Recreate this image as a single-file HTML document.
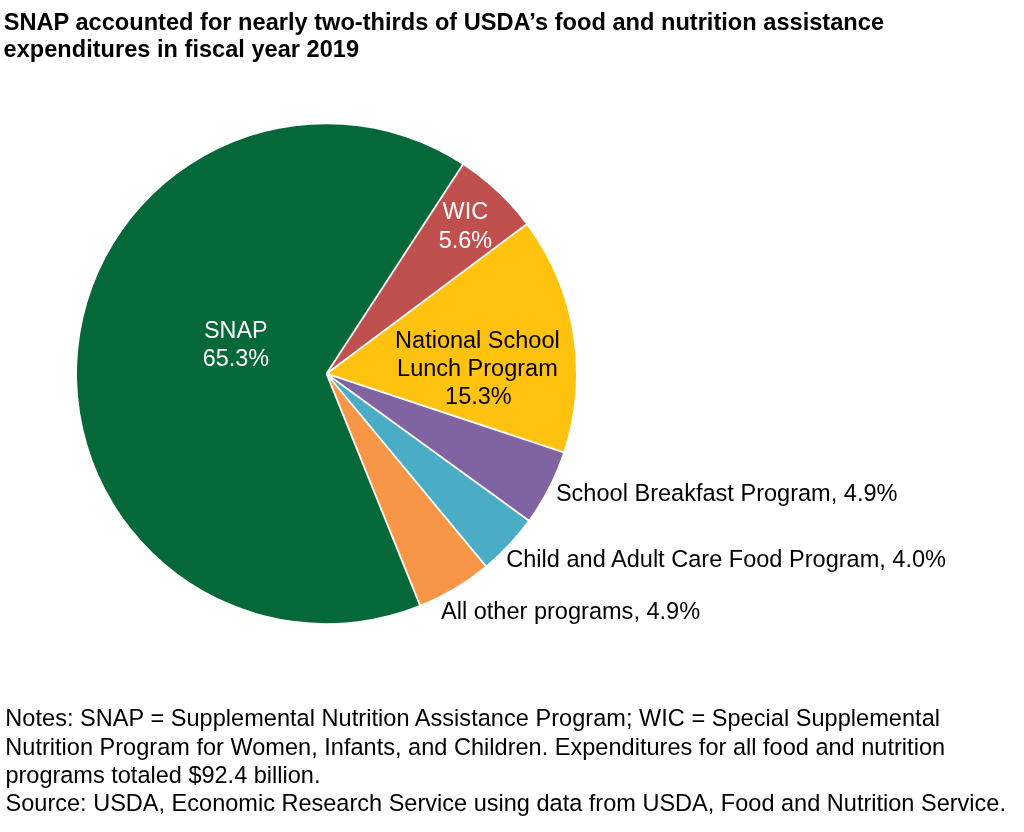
<!DOCTYPE html>
<html><head><meta charset="utf-8">
<style>
html,body{margin:0;padding:0;background:#fff;}
body{width:1024px;height:832px;overflow:hidden;position:relative;}
svg{position:absolute;left:0;top:0;will-change:transform;}
text{font-family:"Liberation Sans",sans-serif;}
</style></head><body>
<svg width="1024" height="832" viewBox="0 0 1024 832">
<g>
<path d="M326.5,373.7 L462.75,164.69 A249.5,249.5 0 0 1 526.44,224.45 Z" fill="#C0504D"/>
<path d="M326.5,373.7 L526.44,224.45 A249.5,249.5 0 0 1 563.33,452.21 Z" fill="#FFC20E"/>
<path d="M326.5,373.7 L563.33,452.21 A249.5,249.5 0 0 1 528.40,520.28 Z" fill="#8064A2"/>
<path d="M326.5,373.7 L528.40,520.28 A249.5,249.5 0 0 1 485.60,565.89 Z" fill="#4BACC6"/>
<path d="M326.5,373.7 L485.60,565.89 A249.5,249.5 0 0 1 419.88,605.06 Z" fill="#F79646"/>
<path d="M326.5,373.7 L419.88,605.06 A249.5,249.5 0 1 1 462.75,164.69 Z" fill="#056839"/>
</g>
<g stroke="#fff" stroke-width="1.8" stroke-linecap="butt">
<line x1="326.5" y1="373.7" x2="463.84" y2="163.01"/>
<line x1="326.5" y1="373.7" x2="528.04" y2="223.26"/>
<line x1="326.5" y1="373.7" x2="565.23" y2="452.84"/>
<line x1="326.5" y1="373.7" x2="530.02" y2="521.46"/>
<line x1="326.5" y1="373.7" x2="486.88" y2="567.43"/>
<line x1="326.5" y1="373.7" x2="420.63" y2="606.92"/>
</g>
<text x="3.7" y="29.55" font-size="23.6" fill="#000" font-weight="bold" textLength="880.3" lengthAdjust="spacing">SNAP accounted for nearly two-thirds of USDA’s food and nutrition assistance</text>
<text x="3.6" y="57.4" font-size="23.5" fill="#000" font-weight="bold" textLength="355.4" lengthAdjust="spacing">expenditures in fiscal year 2019</text>
<text x="235.8" y="338.0" font-size="23.4" fill="#fff" text-anchor="middle">SNAP</text>
<text x="235.8" y="366.2" font-size="23.4" fill="#fff" text-anchor="middle">65.3%</text>
<text x="465.3" y="219" font-size="23.4" fill="#fff" text-anchor="middle">WIC</text>
<text x="465.3" y="247.7" font-size="23.4" fill="#fff" text-anchor="middle">5.6%</text>
<text x="477.4" y="347.7" font-size="23.5" fill="#000" text-anchor="middle">National School</text>
<text x="477.4" y="376.2" font-size="23.5" fill="#000" text-anchor="middle">Lunch Program</text>
<text x="478.4" y="404.0" font-size="23.5" fill="#000" text-anchor="middle">15.3%</text>
<text x="555.9" y="500.7" font-size="23.55" fill="#000">School Breakfast Program, 4.9%</text>
<text x="506.25" y="567.0" font-size="23.55" fill="#000">Child and Adult Care Food Program, 4.0%</text>
<text x="441.0" y="619.2" font-size="23.55" fill="#000">All other programs, 4.9%</text>
<text x="5.3" y="726.0" font-size="23.53" fill="#000" textLength="934.7" lengthAdjust="spacing">Notes: SNAP = Supplemental Nutrition Assistance Program; WIC = Special Supplemental</text>
<text x="5.3" y="754.8" font-size="23.53" fill="#000" textLength="939.8" lengthAdjust="spacing">Nutrition Program for Women, Infants, and Children. Expenditures for all food and nutrition</text>
<text x="5.4" y="783.0" font-size="23.53" fill="#000">programs totaled $92.4 billion.</text>
<text x="5.55" y="811.2" font-size="23.53" fill="#000" textLength="1000.45" lengthAdjust="spacing">Source: USDA, Economic Research Service using data from USDA, Food and Nutrition Service.</text>
</svg>
</body></html>
